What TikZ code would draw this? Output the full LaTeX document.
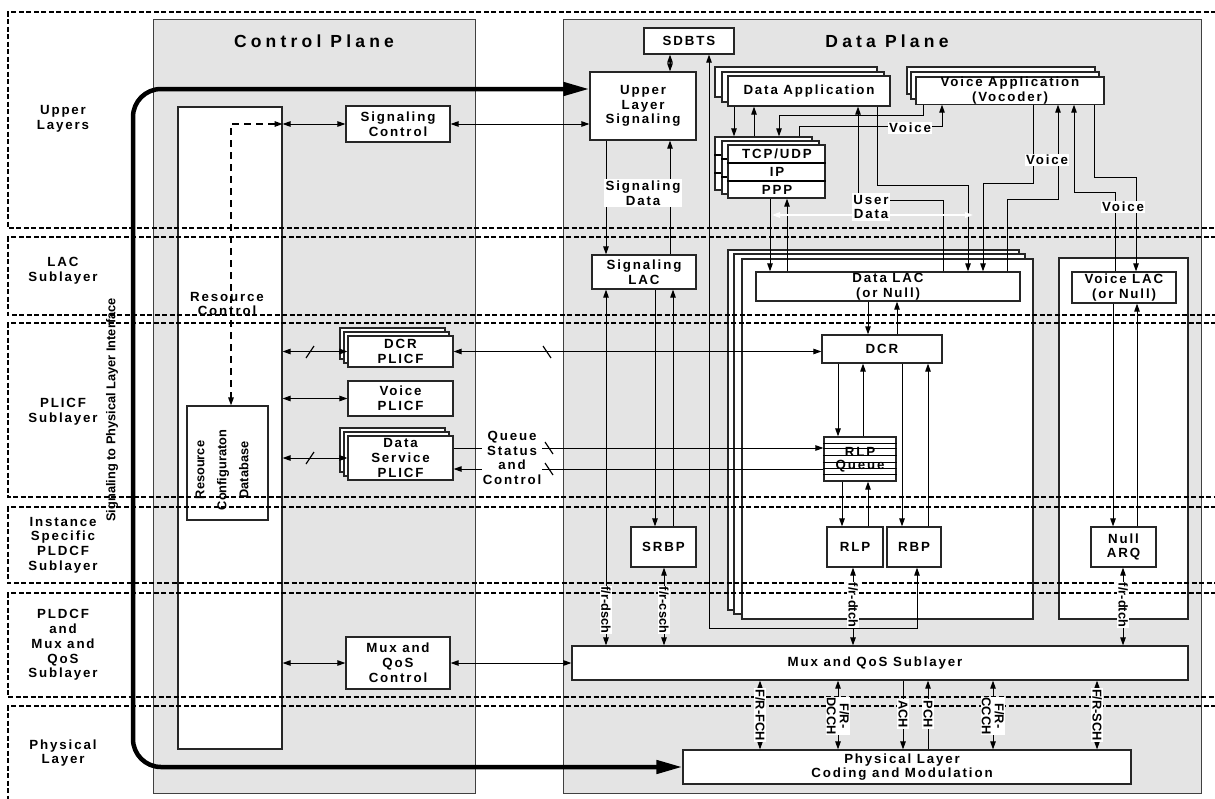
\documentclass[tikz,border=0pt]{standalone}
\usepackage{fontspec}
\setmainfont{Liberation Sans}[LetterSpace=14]
\newfontfamily\plainfam{Liberation Sans}
\newfontfamily\titlefam{Liberation Sans}[LetterSpace=24]
\usetikzlibrary{arrows.meta}
\definecolor{planegray}{HTML}{E4E4E4}
\newcommand\fs{\fontsize{13.3}{14.8}\selectfont\bfseries}
\newcommand\fr{\plainfam\fontsize{12.8}{13}\selectfont\bfseries}
\newcommand\ft{\titlefam\fontsize{17.5}{20}\selectfont\bfseries}
\newcommand\bx[7][]{\node[box,#1,minimum width={#5-#3},minimum height={#6-#4}] (#2) at ({(#3+#5)/2},{(#4+#6)/2}) {#7};}
\begin{document}
\begin{tikzpicture}[x=1pt,y=-1pt,>={Triangle[length=8pt,width=5.5pt]},line width=0.95pt,
  plane/.style={draw=black!75,line width=1pt,fill=planegray},
  box/.style={draw=black!85,line width=1.2pt,fill=white,inner sep=0pt,align=center,font=\fs},
  txt/.style={align=center,font=\fs,inner sep=0pt},
  lbl/.style={fill=white,inner sep=1.5pt,align=center,font=\fs},
  rot/.style={fill=white,inner sep=1pt,align=center,font=\fr,rotate=-90},
  band/.style={draw=black,line width=1.1pt,dash pattern=on 5pt off 2.5pt},
  dsh/.style={line width=1.4pt,dash pattern=on 7pt off 5pt},
  sl/.style={line width=1.2pt},
  thk/.style={line width=4.5pt,rounded corners=28pt,{Triangle[length=26pt,width=13pt]}-{Triangle[length=26pt,width=13pt]}}]
\useasboundingbox (0,0) rectangle (1215,798);
\foreach \v in {231,606,655,664,670,673,709,734,754,760,770,779,787,799,838,842,853,858,863,868,877,897,902,903,917,923,928,942,943,968,983,993,1007,1033,1058,1074,1094,1097,1113,1115,1123,1136,1137} {\coordinate (X\v) at (\v,0);}
\foreach \v in {89,124,448,469,767} {\coordinate (Y\v) at (0,\v);}
% planes
\bx[plane]{cp}{153}{19}{475}{793}{}
\bx[plane]{dp}{563}{19}{1201}{793}{}
\node[font=\ft] (cpt) at (314,41) {Control Plane};
\node[font=\ft] (dpt) at (887,41) {Data Plane};
% control plane
\bx{rc}{178}{107}{282}{749}{}
\node[txt] (rct) at (227,304) {Resource\\Control};
\bx{rcd}{187}{406}{268}{520}{}
\node[rotate=90,align=center,inner sep=0pt,font={\plainfam\fontsize{12.8}{22}\selectfont\bfseries}] (rcdt) at (222,470) {Resource\\Configuraton\\Database};
\bx{sc}{346}{106}{450}{142}{Signaling\\Control}
\bx{dcrp2}{340}{328}{445}{359}{}
\bx{dcrp1}{344}{332}{449}{363}{}
\bx{dcrp}{348}{336}{453}{367}{DCR\\PLICF}
\bx{vp}{348}{381}{453}{416}{Voice\\PLICF}
\bx{dsp2}{340}{428}{445}{472}{}
\bx{dsp1}{344}{432}{449}{476}{}
\bx{dsp}{348}{436}{453}{480}{Data\\Service\\PLICF}
\bx{mqc}{346}{637}{450}{689}{Mux and\\QoS\\Control}
% data plane
\bx{sdbts}{644}{28}{734}{54}{SDBTS}
\bx{uls}{590}{72}{696}{140}{Upper\\Layer\\Signaling}
\bx{slac}{592}{255}{696}{289}{Signaling\\LAC}
\bx{srbp}{631}{527}{696}{567}{SRBP}
\bx{dapp2}{715}{67}{877}{97}{}
\bx{dapp1}{722}{72}{884}{102}{}
\bx{dapp}{728}{76}{890}{106}{Data Application}
\bx{tcp2}{715}{137}{812}{190}{}
\draw[line width=1.1pt] (tcp2.west |- 0,155) -- (tcp2.east |- 0,155) (tcp2.west |- 0,173) -- (tcp2.east |- 0,173);
\bx{tcp1}{722}{141}{819}{194}{}
\draw[line width=1.1pt] (tcp1.west |- 0,159) -- (tcp1.east |- 0,159) (tcp1.west |- 0,177) -- (tcp1.east |- 0,177);
\bx{tcp}{728}{145}{825}{198}{}
\draw[line width=1.1pt] (tcp.west |- 0,163) -- (tcp.east |- 0,163) (tcp.west |- 0,181) -- (tcp.east |- 0,181);
\node[txt] (tcpt) at (777,154) {TCP/UDP};
\node[txt] (ipt) at (777,172) {IP};
\node[txt] (pppt) at (777,190) {PPP};
\bx{vapp2}{907}{67}{1095}{94}{}
\bx{vapp1}{911}{72}{1099}{99}{}
\bx{vapp}{916}{77}{1104}{104}{Voice Application\\(Vocoder)}
\bx{dset2}{728}{250}{1019}{610}{}
\bx{dset1}{734}{254}{1025}{614}{}
\bx{dset}{742}{259}{1033}{619}{}
\bx{vset}{1059}{258}{1188}{619}{}
\bx{dlac}{756}{272}{1020}{301}{Data LAC\\(or Null)}
\bx{vlac}{1072}{272}{1176}{303}{Voice LAC\\(or Null)}
\bx{dcr}{822}{335}{942}{363}{DCR}
\bx{rlpq}{824}{437}{896}{481}{}
\node[txt] (rlpqt1) at (860,452) {RLP};
\node[txt] (rlpqt2) at (860,466) {Queue};
\foreach \yy in {443,448,455,462,468,474} {\draw[line width=1pt] (rlpq.west |- 0,\yy) -- (rlpq.east |- 0,\yy);}
\bx{rlp}{827}{527}{883}{567}{RLP}
\bx{rbp}{887}{527}{941}{567}{RBP}
\bx{narq}{1091}{527}{1156}{567}{Null\\ARQ}
\bx{mux}{572}{646}{1188}{680}{}
\node[txt] (muxt) at (875,663) {Mux and QoS Sublayer};
\bx{phy}{683}{750}{1131}{784}{}
\node[txt] (phyt) at (902,767) {Physical Layer\\Coding and Modulation};
% control plane connectors
\coordinate (dc) at (231,124);
\draw[dsh,<->] (rc.east |- dc) -- (dc) -- (rcd.north -| dc);
\draw[<->] (rc.east |- sc.west) -- (sc.west);
\draw[<->] (sc.east) -- (uls.west |- sc.east);
\draw[<->] (rc.east |- dcrp.west) -- (dcrp.west);
\draw[<->] (dcrp.east) -- (dcr.west |- dcrp.east);
\draw[<->] (rc.east |- vp.west) -- (vp.west);
\draw[<->] (rc.east |- dsp.west) -- (dsp.west);
\draw[->] (dsp.east |- Y448) -- (rlpq.west |- Y448);
\draw[->] (rlpq.west |- Y469) -- (dsp.east |- Y469);
\draw[<->] (rc.east |- mqc.west) -- (mqc.west);
\draw[<->] (mqc.east) -- (mux.west |- mqc.east);
\draw[sl] (306,358) -- (314,346);
\draw[sl] (306,464) -- (314,452);
\draw[sl] (543,346) -- (551,358);
\draw[sl] (545,442) -- (553,454);
\draw[sl] (545,463) -- (553,475);
% signaling connectors
\draw[<->] (sdbts.south -| X670) -- (uls.north -| X670);
\draw[->] (uls.south -| X606) -- (slac.north -| X606);
\draw[->] (slac.north -| X670) -- (uls.south -| X670);
\draw[<->] (slac.south -| X606) -- (mux.north -| X606);
\draw[->] (slac.south -| X655) -- (srbp.north -| X655);
\draw[->] (srbp.north -| X673) -- (slac.south -| X673);
\draw[<->] (srbp.south -| X664) -- (mux.north -| X664);
\draw[<->] (rbp.south -| X917) -- (917,628) -- (709,628) -- (sdbts.south -| X709);
% applications
\draw[->] (dapp.south -| X734) -- (tcp2.north -| X734);
\draw[->] (tcp2.north -| X754) -- (dapp.south -| X754);
\draw[->] (vapp.south -| X923) -- (923,115) -- (779,115) -- (tcp2.north -| X779);
\draw[->] (tcp2.north -| X799) -- (799,126) -- (942,126) -- (vapp.south -| X942);
\draw[->] (tcp.south -| X770) -- (dlac.north -| X770);
\draw[->] (dlac.north -| X787) -- (tcp.south -| X787);
\draw[->] (dlac.north -| X943) -- (943,200) -- (858,200) -- (dapp.south -| X858);
\draw[->] (dapp.south -| X877) -- (877,185) -- (968,185) -- (dlac.north -| X968);
\draw[->] (vapp.south -| X1033) -- (1033,183) -- (983,183) -- (dlac.north -| X983);
\draw[->] (dlac.north -| X1007) -- (1007,199) -- (1058,199) -- (vapp.south -| X1058);
\draw[->] (vlac.north -| X1115) -- (1115,192) -- (1074,192) -- (vapp.south -| X1074);
\draw[->] (vapp.south -| X1094) -- (1094,177) -- (1136,177) -- (vlac.north -| X1136);
\coordinate (ud1) at (772,215);
\coordinate (ud2) at (973,215);
\draw[white,line width=1.3pt,<->] (ud1) -- (ud2);
% data stack
\draw[->] (dlac.south -| X868) -- (dcr.north -| X868);
\draw[->] (dcr.north -| X897) -- (dlac.south -| X897);
\draw[->] (dcr.south -| X838) -- (rlpq.north -| X838);
\draw[->] (rlpq.north -| X863) -- (dcr.south -| X863);
\draw[->] (dcr.south -| X902) -- (rbp.north -| X902);
\draw[->] (rbp.north -| X928) -- (dcr.south -| X928);
\draw[->] (rlpq.south -| X842) -- (rlp.north -| X842);
\draw[->] (rlp.north -| X868) -- (rlpq.south -| X868);
\draw[<->] (rlp.south -| X853) -- (mux.north -| X853);
\draw[->] (vlac.south -| X1113) -- (narq.north -| X1113);
\draw[->] (narq.north -| X1137) -- (vlac.south -| X1137);
\draw[<->] (narq.south -| X1123) -- (mux.north -| X1123);
% mux to physical
\draw[<->] (mux.south -| X760) -- (phy.north -| X760);
\draw[<->] (mux.south -| X838) -- (phy.north -| X838);
\draw[->] (mux.south -| X903) -- (phy.north -| X903);
\draw[->] (phy.north -| X928) -- (mux.south -| X928);
\draw[<->] (mux.south -| X993) -- (phy.north -| X993);
\draw[<->] (mux.south -| X1097) -- (phy.north -| X1097);
% thick interface arrow
\draw[thk] (uls.west |- Y89) -- (133,89) -- (133,767) -- (phy.west |- Y767);
\node[rotate=90,font=\fr,inner sep=0pt] (sigif) at (112,410) {Signaling to Physical Layer Interface};
% bands
\foreach \t/\b in {12/228,237/315,323/497,507/583,593/697} {\draw[band] (1216,\t) -- (8,\t) -- (8,\b) -- (1216,\b);}
\draw[band] (1216,706) -- (8,706) -- (8,800);
\node[txt] (l1) at (63,119) {Upper\\Layers};
\node[txt] (l2) at (63,271) {LAC\\Sublayer};
\node[txt] (l3) at (63,412) {PLICF\\Sublayer};
\node[txt] (l4) at (63,545) {Instance\\Specific\\PLDCF\\Sublayer};
\node[txt] (l5) at (63,645) {PLDCF\\and\\Mux and\\QoS\\Sublayer};
\node[txt] (l6) at (63,753) {Physical\\Layer};
% labels
\node[lbl] (lsd) at (643,193) {Signaling\\Data};
\node[lbl] (lv1) at (910,128) {Voice};
\node[lbl] (lv2) at (1047,160) {Voice};
\node[lbl] (lv3) at (1123,207) {Voice};
\node[lbl] (lud) at (871,207) {User\\Data};
\node[lbl,inner sep=1pt] (lqs) at (512,458) {Queue\\Status\\and\\Control};
\node[rot] (c1) at (606,610) {f/r-dsch};
\node[rot] (c2) at (664,610) {f/r-csch};
\node[rot] (c3) at (853,605) {f/r-dtch};
\node[rot] (c4) at (1123,605) {f/r-dtch};
\node[rot] (c5) at (760,715) {F/R-FCH};
\node[rot] (c6) at (838,716) {F/R-\\DCCH};
\node[rot] (c7) at (903,714) {ACH};
\node[rot] (c8) at (928,714) {PCH};
\node[rot] (c9) at (993,716) {F/R-\\CCCH};
\node[rot] (c10) at (1097,715) {F/R-SCH};
\end{tikzpicture}
\end{document}
